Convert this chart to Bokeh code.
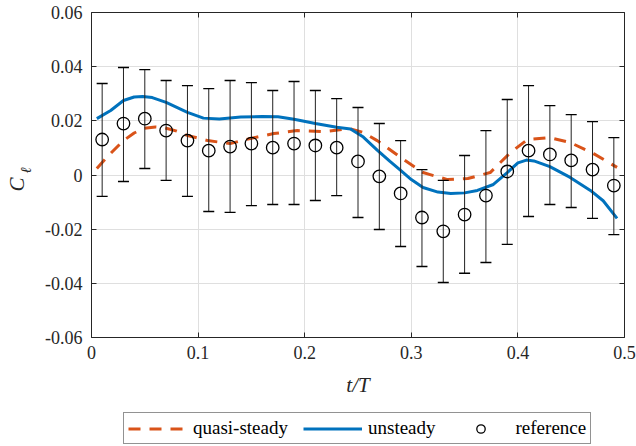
import math
from bokeh.plotting import figure
from bokeh.layouts import column, row
from bokeh.models import Range1d, FixedTicker, LinearAxis, Legend, LegendItem, Label
from bokeh.embed import file_html
from bokeh.resources import INLINE

# ---------------- data ----------------
x_ticks = [0, 0.1, 0.2, 0.3, 0.4, 0.5]
x_tick_labels = ["0", "0.1", "0.2", "0.3", "0.4", "0.5"]
y_ticks = [-0.06, -0.04, -0.02, 0, 0.02, 0.04, 0.06]
y_tick_labels = ["-0.06", "-0.04", "-0.02", "0", "0.02", "0.04", "0.06"]

# reference (mean with error bars)
t_ref = [0.01, 0.03, 0.05, 0.07, 0.09, 0.11, 0.13, 0.15, 0.17, 0.19, 0.21, 0.23, 0.25,
         0.27, 0.29, 0.31, 0.33, 0.35, 0.37, 0.39, 0.41, 0.43, 0.45, 0.47, 0.49]
cl_ref = [0.0131, 0.0190, 0.0208, 0.0164, 0.0127, 0.0090, 0.0105, 0.0116, 0.0101, 0.0116,
          0.0109, 0.0101, 0.0050, -0.0005, -0.0068, -0.0157, -0.0208, -0.0146, -0.0076,
          0.0013, 0.0090, 0.0076, 0.0054, 0.0020, -0.0039]
cl_upper = [0.0338, 0.0397, 0.0389, 0.0349, 0.0330, 0.0319, 0.0349, 0.0341, 0.0312, 0.0345,
            0.0312, 0.0282, 0.0249, 0.0190, 0.0127, 0.0020, -0.0020, 0.0072, 0.0164,
            0.0279, 0.0330, 0.0256, 0.0223, 0.0197, 0.0138]
cl_lower = [-0.0079, -0.0024, 0.0024, -0.0020, -0.0079, -0.0135, -0.0138, -0.0113, -0.0109,
            -0.0109, -0.0094, -0.0076, -0.0157, -0.0201, -0.0264, -0.0338, -0.0397, -0.0363,
            -0.0323, -0.0256, -0.0153, -0.0109, -0.0120, -0.0160, -0.0220]

# unsteady model
t_us = [0.005, 0.018, 0.030, 0.040, 0.048, 0.057, 0.070, 0.090, 0.105, 0.120, 0.140, 0.160,
        0.175, 0.190, 0.210, 0.230, 0.243, 0.255, 0.268, 0.280, 0.290, 0.300, 0.311, 0.325,
        0.337, 0.350, 0.362, 0.377, 0.390, 0.400, 0.408, 0.415, 0.430, 0.449, 0.468, 0.480,
        0.493]
cl_us = [0.0208, 0.0238, 0.0275, 0.0288, 0.0290, 0.0286, 0.0268, 0.0231, 0.0210, 0.0207,
         0.0214, 0.0216, 0.0215, 0.0206, 0.0190, 0.0176, 0.0170, 0.0140, 0.0092, 0.0050,
         0.0017, -0.0017, -0.0046, -0.0063, -0.0068, -0.0066, -0.0057, -0.0035, 0.0009,
         0.0045, 0.0055, 0.0052, 0.0031, -0.0009, -0.0057, -0.0095, -0.0160]

# quasi-steady model
t_qs = [0.005, 0.015, 0.030, 0.040, 0.049, 0.060, 0.068, 0.080, 0.090, 0.109, 0.130, 0.149,
        0.171, 0.193, 0.218, 0.235, 0.243, 0.255, 0.268, 0.290, 0.311, 0.334, 0.353, 0.374,
        0.393, 0.409, 0.430, 0.449, 0.471, 0.493]
cl_qs = [0.0024, 0.0068, 0.0127, 0.0155, 0.0172, 0.0177, 0.0175, 0.0162, 0.0146, 0.0127,
         0.0116, 0.0135, 0.0153, 0.0164, 0.0160, 0.0168, 0.0170, 0.0157, 0.0127, 0.0065,
         0.0009, -0.0017, -0.0013, 0.0009, 0.0083, 0.0131, 0.0138, 0.0120, 0.0079, 0.0028]

series_labels = ["quasi-steady", "unsteady", "reference"]

BLUE = "#0072BD"
ORANGE = "#D95319"
AX = "#262626"
GRID = "#dfdfdf"
FONT = "Liberation Serif"

LBL_W = 34          # width of the y-label strip
MAIN_W, MAIN_H = 602, 402
LEG_H = 44
BORDER_BOTTOM = 65  # frame bottom sits at MAIN_H - BORDER_BOTTOM

def bare_figure(w, h, xr=(0, 1), yr=(0, 1)):
    f = figure(width=w, height=h, x_range=Range1d(*xr), y_range=Range1d(*yr),
               output_backend="svg", toolbar_location=None,
               x_axis_location=None, y_axis_location=None,
               min_border_left=0, min_border_right=0, min_border_top=0, min_border_bottom=0)
    f.grid.visible = False
    f.outline_line_color = None
    f.background_fill_color = "white"
    f.border_fill_color = "white"
    return f

# ---------------- main plot ----------------
p = figure(width=MAIN_W, height=MAIN_H, x_range=Range1d(0, 0.5), y_range=Range1d(-0.06, 0.06),
           output_backend="svg", toolbar_location=None,
           min_border_left=91 - LBL_W, min_border_right=12, min_border_top=12,
           min_border_bottom=BORDER_BOTTOM)
p.background_fill_color = "white"
p.border_fill_color = "white"
p.outline_line_color = None

xt = FixedTicker(ticks=x_ticks)
yt = FixedTicker(ticks=y_ticks)
xo = {v: s for v, s in zip(x_ticks, x_tick_labels)}
yo = {v: s for v, s in zip(y_ticks, y_tick_labels)}

def style_axis(ax, ticker, overrides):
    ax.ticker = ticker
    ax.major_label_overrides = overrides
    ax.axis_line_color = AX
    ax.axis_line_width = 1
    ax.major_tick_line_color = AX
    ax.major_tick_in = 5
    ax.major_tick_out = 0
    ax.minor_tick_line_color = None
    ax.major_label_text_font = FONT
    ax.major_label_text_color = AX
    ax.major_label_text_font_size = "18px"

style_axis(p.xaxis[0], xt, xo)
style_axis(p.yaxis[0], yt, yo)
p.xaxis[0].major_label_standoff = 8
p.yaxis[0].major_label_standoff = 9
p.xaxis[0].axis_label = "t/T"
p.xaxis[0].axis_label_text_font = FONT
p.xaxis[0].axis_label_text_font_style = "italic"
p.xaxis[0].axis_label_text_font_size = "21px"
p.xaxis[0].axis_label_text_color = AX
p.xaxis[0].axis_label_standoff = 11

# box axes (top and right) with inward ticks and no labels
top_ax = LinearAxis(ticker=xt, major_label_text_alpha=0, major_label_text_font_size="1px",
                    major_label_standoff=0, axis_line_color=AX, major_tick_line_color=AX,
                    major_tick_in=5, major_tick_out=0, minor_tick_line_color=None)
right_ax = LinearAxis(ticker=yt, major_label_text_alpha=0, major_label_text_font_size="1px",
                      major_label_standoff=0, axis_line_color=AX, major_tick_line_color=AX,
                      major_tick_in=5, major_tick_out=0, minor_tick_line_color=None)
p.add_layout(top_ax, "above")
p.add_layout(right_ax, "right")

p.xgrid.ticker = xt
p.ygrid.ticker = yt
p.xgrid.grid_line_color = GRID
p.ygrid.grid_line_color = GRID

QS_STYLE = dict(line_color=ORANGE, line_width=3, line_dash="12 9")
US_STYLE = dict(line_color=BLUE, line_width=3)
REF_STYLE = dict(marker="circle", fill_color=None, line_color="black", line_width=1.3)

p.line(t_qs, cl_qs, **QS_STYLE)
p.line(t_us, cl_us, **US_STYLE)
p.segment(x0=t_ref, y0=cl_lower, x1=t_ref, y1=cl_upper, line_color="#222222", line_width=1)
p.scatter(t_ref, cl_upper, marker="dash", size=11, line_color="black", line_width=1.4)
p.scatter(t_ref, cl_lower, marker="dash", size=11, line_color="black", line_width=1.4)
p.scatter(t_ref, cl_ref, size=12.5, **REF_STYLE)

# ---------------- y-axis label strip (frame aligned with the main frame) ----------------
frame_bottom = MAIN_H - BORDER_BOTTOM
ylab = bare_figure(LBL_W, MAIN_H)
ylab.add_layout(Label(x=16, y=frame_bottom - 184, x_units="screen", y_units="screen",
                      text="C", angle=math.pi / 2, text_font=FONT, text_font_style="italic",
                      text_font_size="21px", text_color=AX, text_align="center",
                      text_baseline="middle"))
ylab.add_layout(Label(x=25, y=frame_bottom - 170, x_units="screen", y_units="screen",
                      text="ℓ", angle=math.pi / 2, text_font=FONT, text_font_style="italic",
                      text_font_size="15px", text_color=AX, text_align="center",
                      text_baseline="middle"))

# ---------------- legend strip ----------------
# proxy renderers use the real series but lie outside this strip's visible y-range
leg = bare_figure(LBL_W + MAIN_W, LEG_H, xr=(0, 0.5), yr=(1, 2))
g_qs = leg.line(t_qs, cl_qs, **QS_STYLE)
g_us = leg.line(t_us, cl_us, **US_STYLE)
g_ref = leg.scatter(t_ref, cl_ref, size=10, **REF_STYLE)
legend = Legend(items=[LegendItem(label=series_labels[0], renderers=[g_qs]),
                       LegendItem(label=series_labels[1], renderers=[g_us]),
                       LegendItem(label=series_labels[2], renderers=[g_ref])],
                orientation="horizontal", location=(123, 2),
                glyph_width=59, glyph_height=21, label_height=21, label_standoff=6,
                spacing=15, padding=4, margin=0,
                label_text_font=FONT, label_text_font_size="19px", label_text_color="black",
                border_line_color=AX, border_line_width=1,
                background_fill_color="white", background_fill_alpha=1)
leg.add_layout(legend, "center")

layout = column(row(ylab, p, spacing=0), leg, spacing=0)
open("out.html", "w").write(file_html(layout, INLINE))
